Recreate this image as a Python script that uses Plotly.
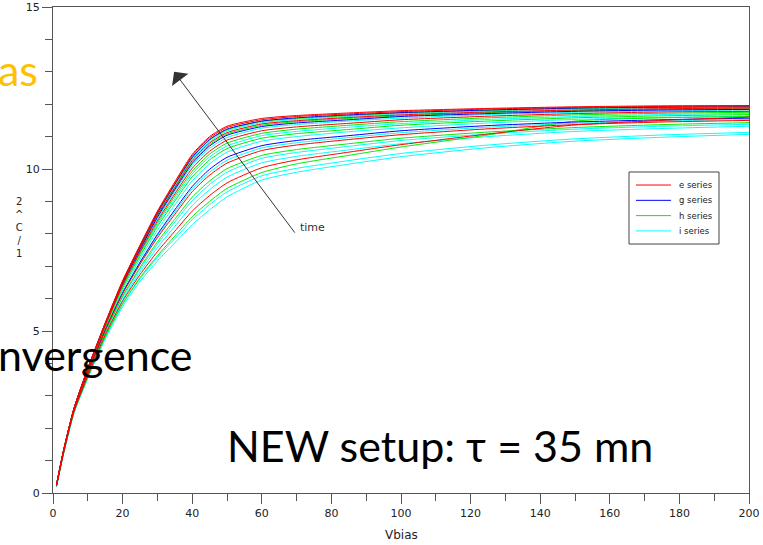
import plotly.graph_objects as go

# Bias voltage sample points shared by every C-V sweep
vbias = [1, 3, 6, 10, 15, 20, 25, 30, 35, 40, 45, 50, 60, 70, 85, 100, 125, 150, 175, 200]

# 1/C^2 sweeps, one list per acquisition
e_series = [
    [0.25, 1.30, 2.60, 3.85, 5.25, 6.55, 7.65, 8.70, 9.60, 10.45, 11.00, 11.32, 11.56, 11.65, 11.73, 11.80, 11.87, 11.92, 11.95, 11.96],
    [0.25, 1.30, 2.60, 3.85, 5.24, 6.54, 7.63, 8.67, 9.56, 10.41, 10.96, 11.28, 11.52, 11.62, 11.70, 11.77, 11.85, 11.90, 11.93, 11.94],
    [0.25, 1.29, 2.59, 3.83, 5.21, 6.49, 7.56, 8.57, 9.43, 10.26, 10.80, 11.12, 11.39, 11.49, 11.59, 11.67, 11.76, 11.82, 11.86, 11.88],
    [0.24, 1.28, 2.58, 3.80, 5.17, 6.41, 7.44, 8.40, 9.23, 10.02, 10.55, 10.89, 11.18, 11.30, 11.41, 11.52, 11.63, 11.71, 11.76, 11.78],
    [0.22, 1.25, 2.55, 3.72, 5.02, 6.15, 7.06, 7.88, 8.60, 9.30, 9.81, 10.18, 10.57, 10.74, 10.91, 11.06, 11.24, 11.37, 11.45, 11.50],
    [0.21, 1.22, 2.50, 3.62, 4.88, 5.92, 6.74, 7.45, 8.08, 8.70, 9.18, 9.57, 10.04, 10.28, 10.52, 10.75, 11.08, 11.36, 11.50, 11.60],
]
g_series = [
    [0.25, 1.30, 2.60, 3.84, 5.23, 6.52, 7.61, 8.64, 9.53, 10.36, 10.91, 11.23, 11.48, 11.58, 11.67, 11.74, 11.82, 11.88, 11.91, 11.92],
    [0.24, 1.29, 2.59, 3.82, 5.20, 6.46, 7.51, 8.51, 9.36, 10.17, 10.71, 11.04, 11.31, 11.42, 11.52, 11.62, 11.71, 11.78, 11.82, 11.84],
    [0.23, 1.26, 2.55, 3.72, 5.03, 6.18, 7.12, 7.98, 8.74, 9.46, 9.99, 10.36, 10.72, 10.88, 11.03, 11.18, 11.34, 11.45, 11.52, 11.57],
]
h_series = [
    [0.25, 1.29, 2.59, 3.84, 5.23, 6.52, 7.60, 8.63, 9.51, 10.34, 10.89, 11.21, 11.47, 11.56, 11.65, 11.73, 11.81, 11.87, 11.90, 11.92],
    [0.24, 1.29, 2.59, 3.82, 5.21, 6.47, 7.53, 8.54, 9.40, 10.21, 10.75, 11.08, 11.35, 11.46, 11.56, 11.64, 11.74, 11.80, 11.84, 11.86],
    [0.24, 1.28, 2.58, 3.79, 5.15, 6.38, 7.40, 8.34, 9.16, 9.93, 10.46, 10.80, 11.10, 11.23, 11.35, 11.46, 11.58, 11.67, 11.72, 11.75],
    [0.23, 1.27, 2.57, 3.77, 5.12, 6.33, 7.31, 8.22, 9.01, 9.76, 10.28, 10.63, 10.95, 11.09, 11.22, 11.35, 11.48, 11.58, 11.64, 11.68],
    [0.22, 1.24, 2.53, 3.67, 4.96, 6.07, 6.96, 7.75, 8.45, 9.13, 9.63, 10.01, 10.42, 10.60, 10.78, 10.95, 11.14, 11.28, 11.37, 11.43],
    [0.21, 1.20, 2.48, 3.58, 4.82, 5.84, 6.65, 7.32, 7.93, 8.53, 9.00, 9.40, 9.89, 10.16, 10.42, 10.68, 11.05, 11.48, 11.58, 11.62],
]
i_series = [
    [0.25, 1.29, 2.59, 3.83, 5.22, 6.50, 7.58, 8.60, 9.47, 10.30, 10.84, 11.17, 11.43, 11.53, 11.62, 11.70, 11.79, 11.85, 11.88, 11.90],
    [0.24, 1.28, 2.58, 3.81, 5.19, 6.44, 7.48, 8.46, 9.30, 10.11, 10.64, 10.97, 11.26, 11.37, 11.48, 11.57, 11.68, 11.75, 11.79, 11.82],
    [0.24, 1.27, 2.57, 3.78, 5.14, 6.35, 7.36, 8.28, 9.08, 9.85, 10.37, 10.71, 11.03, 11.16, 11.29, 11.40, 11.53, 11.62, 11.68, 11.71],
    [0.23, 1.26, 2.56, 3.75, 5.08, 6.26, 7.22, 8.11, 8.89, 9.63, 10.16, 10.52, 10.86, 11.00, 11.15, 11.27, 11.42, 11.53, 11.59, 11.63],
    [0.23, 1.25, 2.54, 3.71, 5.02, 6.16, 7.09, 7.93, 8.67, 9.39, 9.90, 10.27, 10.65, 10.81, 10.97, 11.12, 11.29, 11.41, 11.48, 11.53],
    [0.22, 1.23, 2.52, 3.66, 4.94, 6.03, 6.91, 7.68, 8.36, 9.02, 9.52, 9.90, 10.33, 10.51, 10.70, 10.88, 11.08, 11.23, 11.32, 11.38],
    [0.21, 1.22, 2.50, 3.62, 4.88, 5.96, 6.82, 7.57, 8.23, 8.87, 9.36, 9.75, 10.19, 10.39, 10.59, 10.78, 11.00, 11.16, 11.25, 11.32],
    [0.20, 1.20, 2.47, 3.56, 4.79, 5.82, 6.61, 7.27, 7.85, 8.43, 8.90, 9.29, 9.79, 10.02, 10.26, 10.48, 10.74, 10.93, 11.05, 11.13],
    [0.20, 1.19, 2.45, 3.53, 4.75, 5.75, 6.53, 7.16, 7.72, 8.28, 8.74, 9.14, 9.66, 9.90, 10.15, 10.38, 10.66, 10.86, 10.98, 11.07],
]

# (legend label, colour, sweeps); legend lists them in this order
series = [
    ("e series", "#FF0000", e_series),
    ("g series", "#0000FF", g_series),
    ("h series", "#00EE00", h_series),
    ("i series", "#00FFFF", i_series),
]

x_tick_vals = [0, 20, 40, 60, 80, 100, 120, 140, 160, 180, 200]
y_tick_vals = [0, 5, 10, 15]

AXIS_FONT = "DejaVu Sans"
SLIDE_FONT = "Lato"
FRAME = "#555555"

fig = go.Figure()
# later series first, so the red sweeps end up on top
for name, color, curves in reversed(series):
    for ys in curves:
        fig.add_trace(go.Scatter(
            x=vbias, y=ys, mode="lines", name=name, showlegend=False,
            line=dict(color=color, width=1, shape="spline", smoothing=0.6),
        ))

axis_common = dict(
    showgrid=False, zeroline=False, showline=True, linecolor=FRAME,
    linewidth=1, mirror=True, ticks="outside", tickcolor=FRAME,
    tickwidth=1, ticklen=10, automargin=False,
    tickfont=dict(family=AXIS_FONT, size=11, color="#222222"),
)

fig.update_xaxes(range=[0, 200], tickvals=x_tick_vals,
                 minor=dict(dtick=10, tick0=0, ticks="outside", ticklen=7, tickcolor=FRAME),
                 **axis_common)
fig.update_yaxes(range=[0, 15], tickvals=y_tick_vals,
                 minor=dict(dtick=1, tick0=0, ticks="outside", ticklen=7, tickcolor=FRAME),
                 **axis_common)

fig.update_layout(
    width=763, height=545,
    margin=dict(l=53, r=14, t=7, b=52),
    plot_bgcolor="white", paper_bgcolor="white",
    showlegend=False,
)

# boxed legend inside the plot area (paper coordinates)
LEG_X0, LEG_X1, LEG_Y0, LEG_Y1 = 0.8276, 0.9569, 0.5123, 0.6605
SAMPLE_X0, SAMPLE_X1, LABEL_X = 0.8376, 0.8879, 0.8966
ROW_TOP, ROW_STEP = 0.6337, 0.0315

shapes = [dict(type="rect", xref="paper", yref="paper",
               x0=LEG_X0, x1=LEG_X1, y0=LEG_Y0, y1=LEG_Y1,
               line=dict(color="#444444", width=1), fillcolor="white", layer="above")]
annotations = []
for row, (name, color, _) in enumerate(series):
    ry = ROW_TOP - row * ROW_STEP
    shapes.append(dict(type="line", xref="paper", yref="paper",
                       x0=SAMPLE_X0, x1=SAMPLE_X1, y0=ry, y1=ry,
                       line=dict(color=color, width=1), layer="above"))
    annotations.append(dict(text=name, xref="paper", yref="paper", x=LABEL_X, y=ry,
                            xanchor="left", yanchor="middle", showarrow=False,
                            font=dict(family=AXIS_FONT, size=8.5, color="#222222")))

annotations += [
    # axis titles
    dict(text="Vbias", xref="paper", yref="paper", x=0.5, y=-0.0864,
         xanchor="center", yanchor="middle", showarrow=False,
         font=dict(family=AXIS_FONT, size=12, color="#222222")),
    dict(text="2<br>^<br>C<br>/<br>1", xref="paper", yref="paper", x=-0.0489, y=0.547,
         xanchor="center", yanchor="middle", showarrow=False,
         font=dict(family=AXIS_FONT, size=10, color="#222222")),
    # time arrow
    dict(text="", x=34.8, y=13.0, ax=69.8, ay=7.99, xref="x", yref="y",
         axref="x", ayref="y", showarrow=True, arrowhead=1, arrowsize=3.4,
         arrowwidth=1, arrowcolor="#333333", standoff=0, startstandoff=0),
    dict(text="time", x=70.4, y=8.18, xref="x", yref="y", xanchor="left",
         yanchor="middle", showarrow=False,
         font=dict(family=AXIS_FONT, size=11, color="#333333")),
    # overlaid slide text
    dict(text="as", xref="paper", yref="paper", x=-0.0187, y=0.872,
         xanchor="right", yanchor="middle", showarrow=False,
         font=dict(family=SLIDE_FONT, size=43, color="#FFC000")),
    dict(text="nvergence", xref="paper", yref="paper", x=0.204, y=0.286,
         xanchor="right", yanchor="middle", showarrow=False,
         font=dict(family=SLIDE_FONT, size=43, color="#000000")),
    dict(text="NEW setup: τ = 35 mn", xref="paper", yref="paper", x=0.2471, y=0.0987,
         xanchor="left", yanchor="middle", showarrow=False,
         font=dict(family=SLIDE_FONT, size=43, color="#000000")),
]
fig.update_layout(annotations=annotations, shapes=shapes)

fig.write_html("out.html")
